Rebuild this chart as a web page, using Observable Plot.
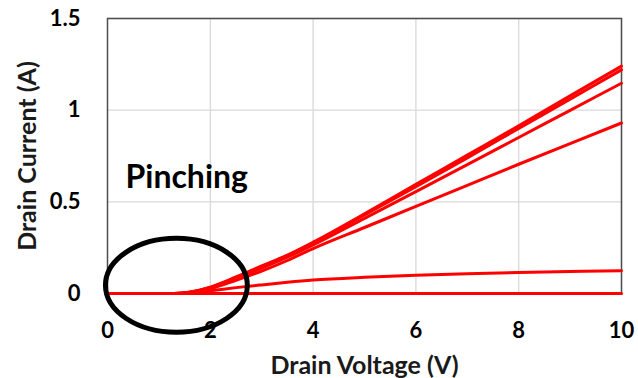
<!DOCTYPE html>
<html>
<head>
<meta charset="utf-8">
<script src="https://cdn.jsdelivr.net/npm/d3@7"></script>
<script src="https://cdn.jsdelivr.net/npm/@observablehq/plot@0.6"></script>
<style>
  html, body { margin: 0; padding: 0; background: #fff; }
  #chart { width: 638px; height: 378px; }
</style>
</head>
<body>
<div id="chart"></div>
<script>
// Drain voltage sample points (V)
const voltage = [0, 1, 1.3, 1.6, 2, 2.5, 3, 3.5, 4, 5, 6, 7, 8, 9, 10];
// Drain current curves (A)
const curve1 = [0, 0, 0, 0.008, 0.035, 0.09, 0.15, 0.21, 0.28, 0.435, 0.595, 0.755, 0.915, 1.078, 1.24];
const curve2 = [0, 0, 0, 0.007, 0.033, 0.087, 0.145, 0.205, 0.275, 0.428, 0.583, 0.74, 0.9, 1.06, 1.22];
const curve3 = [0, 0, 0, 0.006, 0.03, 0.082, 0.138, 0.198, 0.265, 0.41, 0.556, 0.703, 0.851, 0.999, 1.147];
const curve4 = [0, 0, 0, 0.005, 0.026, 0.072, 0.122, 0.18, 0.245, 0.36, 0.475, 0.59, 0.705, 0.818, 0.93];
const curve5 = [0, 0, 0, 0.003, 0.015, 0.032, 0.047, 0.061, 0.073, 0.088, 0.099, 0.108, 0.115, 0.12, 0.124];
const curve6 = [0, 0, 0, 0, 0, 0, 0, 0, 0, 0, 0, 0, 0, 0, 0];
const curves = [curve1, curve2, curve3, curve4, curve5, curve6];

// Tick values and labels
const xTicks = [0, 2, 4, 6, 8, 10];
const yTicks = [0, 0.5, 1, 1.5];
const yTickLabels = ["0", "0.5", "1", "1.5"];

// Text
const xTitle = "Drain Voltage (V)";
const yTitle = "Drain Current (A)";
const annotationText = ["Pinching"];
const annotationPos = [0.35, 0.575];
// Pinching ellipse annotation (data units): center, radii
const ellipseCenter = [1.35, 0.042];
const ellipseRadii = [1.38, 0.256];

const data = [];
curves.forEach((c, k) => c.forEach((v, i) => data.push({series: k, v: voltage[i], i: v})));

const font = "Lato, 'Open Sans', sans-serif";

const chart = Plot.plot({
  width: 638,
  height: 378,
  marginLeft: 107,
  marginRight: 17,
  marginTop: 18,
  marginBottom: 85,
  x: {domain: [0, 10]},
  y: {domain: [0, 1.5]},
  style: {fontFamily: font, fontWeight: "bold", color: "#000", background: "#fff", overflow: "visible"},
  marks: [
    Plot.gridX(xTicks.filter(d => d > 0), {stroke: "#d9d9d9", strokeOpacity: 1, strokeWidth: 1.3}),
    Plot.gridY(yTicks.filter(d => d > 0), {stroke: "#d9d9d9", strokeOpacity: 1, strokeWidth: 1.3}),
    Plot.frame({stroke: "#4d4d4d", strokeWidth: 1.5}),
    Plot.axisX(xTicks, {tickSize: 0, tickPadding: 29, fontSize: 22, fontWeight: "bold", fill: "#000", label: null}),
    Plot.axisY(yTicks, {tickSize: 0, tickPadding: 27, fontSize: 22, fontWeight: "bold", fill: "#000", label: null,
      tickFormat: d => yTickLabels[yTicks.indexOf(d)]}),
    Plot.line(data, {x: "v", y: "i", z: "series", stroke: "#ff0000", strokeWidth: 3, curve: "monotone-x"}),
    Plot.text(annotationText, {x: () => annotationPos[0], y: () => annotationPos[1], textAnchor: "start", lineAnchor: "bottom",
      fontSize: 32, fontWeight: "bold", fill: "#000"}),
    Plot.text([xTitle], {frameAnchor: "bottom", dy: 80, fontSize: 25, fontWeight: "bold", fill: "#1a1a1a", lineAnchor: "bottom"}),
    Plot.text([yTitle], {frameAnchor: "left", textAnchor: "middle", rotate: -90, dx: -80, fontSize: 25, fontWeight: "bold", fill: "#1a1a1a"})
  ]
});

// Ellipse annotation positioned through the plot's own scales
const sx = chart.scale("x"), sy = chart.scale("y");
const cx = sx.apply(ellipseCenter[0]), cy = sy.apply(ellipseCenter[1]);
d3.select(chart).append("ellipse")
  .attr("cx", cx)
  .attr("cy", cy)
  .attr("rx", sx.apply(ellipseCenter[0] + ellipseRadii[0]) - cx)
  .attr("ry", cy - sy.apply(ellipseCenter[1] + ellipseRadii[1]))
  .attr("fill", "none")
  .attr("stroke", "#000")
  .attr("stroke-width", 5);

document.getElementById("chart").appendChild(chart);
</script>
</body>
</html>
